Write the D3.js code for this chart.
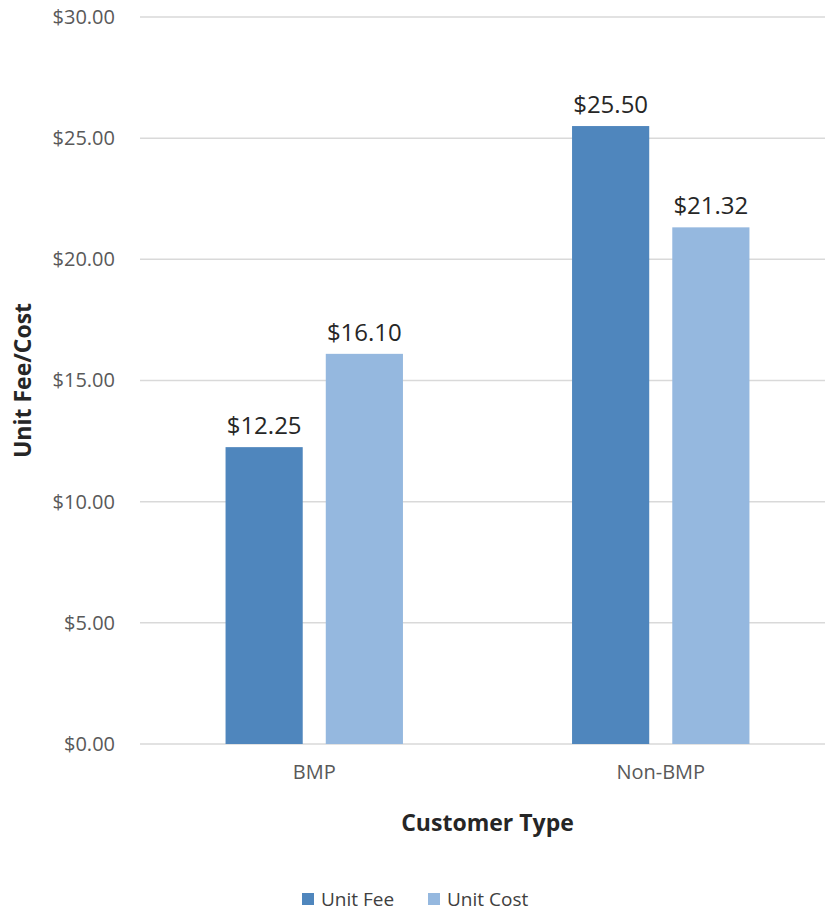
<!DOCTYPE html>
<html>
<head>
  <meta charset="utf-8">
  <script src="https://d3js.org/d3.v7.min.js"></script>
  <style type="text/css">
body{ margin:0; background:#fff; }
svg{ display:block; font-family:"Open Sans", sans-serif; }
.grid line{ stroke:#d9d9d9; stroke-width:1.5; }
.tick text{ fill:#595959; font-family:"Open Sans", sans-serif; }
  </style>
</head>
<body>
<script type="text/javascript">
var categories = ["BMP", "Non-BMP"];
var seriesNames = ["Unit Fee", "Unit Cost"];
var unitFee = [12.25, 25.50];
var unitCost = [16.10, 21.32];
var yTicks = [0, 5, 10, 15, 20, 25, 30];
var colors = ["#4f86bd", "#95b8df"];

var width = 825, height = 912;
var margin = {top: 17, right: -9, bottom: 168, left: 141};
var plotW = width - margin.left - margin.right,
    plotH = height - margin.top - margin.bottom;

var data = categories.map(function(c, i){
  return {cat: c, values: [
    {name: seriesNames[0], value: unitFee[i]},
    {name: seriesNames[1], value: unitCost[i]}
  ]};
});

var svg = d3.select("body").append("svg")
  .attr("width", width)
  .attr("height", height);

var g = svg.append("g")
  .attr("transform", "translate(" + margin.left + "," + margin.top + ")");

var x0 = d3.scaleBand().domain(categories).range([0, plotW]);
var bw = x0.bandwidth();
var x1 = d3.scaleBand().domain(seriesNames)
  .range([bw * 0.244, bw * 0.756])
  .paddingInner(0.23);
var y = d3.scaleLinear().domain([0, 30]).range([plotH, 0]);
var color = d3.scaleOrdinal().domain(seriesNames).range(colors);

// gridlines
g.append("g").attr("class", "grid")
  .selectAll("line").data(yTicks).enter().append("line")
  .attr("x1", -1).attr("x2", plotW)
  .attr("y1", function(d){ return y(d); })
  .attr("y2", function(d){ return y(d); });

// y axis labels
var yAxis = d3.axisLeft(y).tickValues(yTicks)
  .tickFormat(function(d){ return "$" + d3.format(".2f")(d); })
  .tickSize(0).tickPadding(26);
g.append("g").call(yAxis)
  .attr("font-family", null)
  .call(function(a){ a.select(".domain").remove(); })
  .selectAll("text").style("font-size", "20px");

// x axis labels
var xAxis = d3.axisBottom(x0).tickSize(0).tickPadding(21);
g.append("g").attr("transform", "translate(0," + plotH + ")").call(xAxis)
  .attr("font-family", null)
  .call(function(a){ a.select(".domain").remove(); })
  .selectAll("text").style("font-size", "20px");

// bars
var groups = g.selectAll(".cat").data(data).enter().append("g")
  .attr("class", "cat")
  .attr("transform", function(d){ return "translate(" + x0(d.cat) + ",0)"; });

groups.selectAll("rect").data(function(d){ return d.values; }).enter().append("rect")
  .attr("x", function(d){ return x1(d.name); })
  .attr("width", x1.bandwidth())
  .attr("y", function(d){ return y(d.value); })
  .attr("height", function(d){ return plotH - y(d.value); })
  .style("fill", function(d){ return color(d.name); });

groups.selectAll(".lbl").data(function(d){ return d.values; }).enter().append("text")
  .attr("class", "lbl")
  .attr("x", function(d){ return x1(d.name) + x1.bandwidth() / 2; })
  .attr("y", function(d){ return y(d.value) - 13; })
  .attr("text-anchor", "middle")
  .style("font-size", "24px")
  .style("fill", "#262626")
  .text(function(d){ return "$" + d3.format(".2f")(d.value); });

// axis titles
svg.append("text")
  .attr("x", margin.left + plotW / 2)
  .attr("y", 831)
  .attr("text-anchor", "middle")
  .style("font-size", "23px").style("font-weight", "bold").style("fill", "#262626")
  .text("Customer Type");

svg.append("text")
  .attr("transform", "translate(31," + (margin.top + plotH / 2) + ") rotate(-90)")
  .attr("text-anchor", "middle")
  .style("font-size", "23px").style("font-weight", "bold").style("fill", "#262626")
  .text("Unit Fee/Cost");

// legend
var legendX = [302, 428];
var legend = svg.selectAll(".legend").data(seriesNames).enter().append("g")
  .attr("class", "legend")
  .attr("transform", function(d, i){ return "translate(" + legendX[i] + ",893)"; });
legend.append("rect").attr("width", 12).attr("height", 12)
  .style("fill", function(d){ return color(d); });
legend.append("text").attr("x", 19).attr("y", 6).attr("dy", ".35em")
  .style("font-size", "19px").style("fill", "#404040")
  .text(function(d){ return d; });
</script>
</body>
</html>
